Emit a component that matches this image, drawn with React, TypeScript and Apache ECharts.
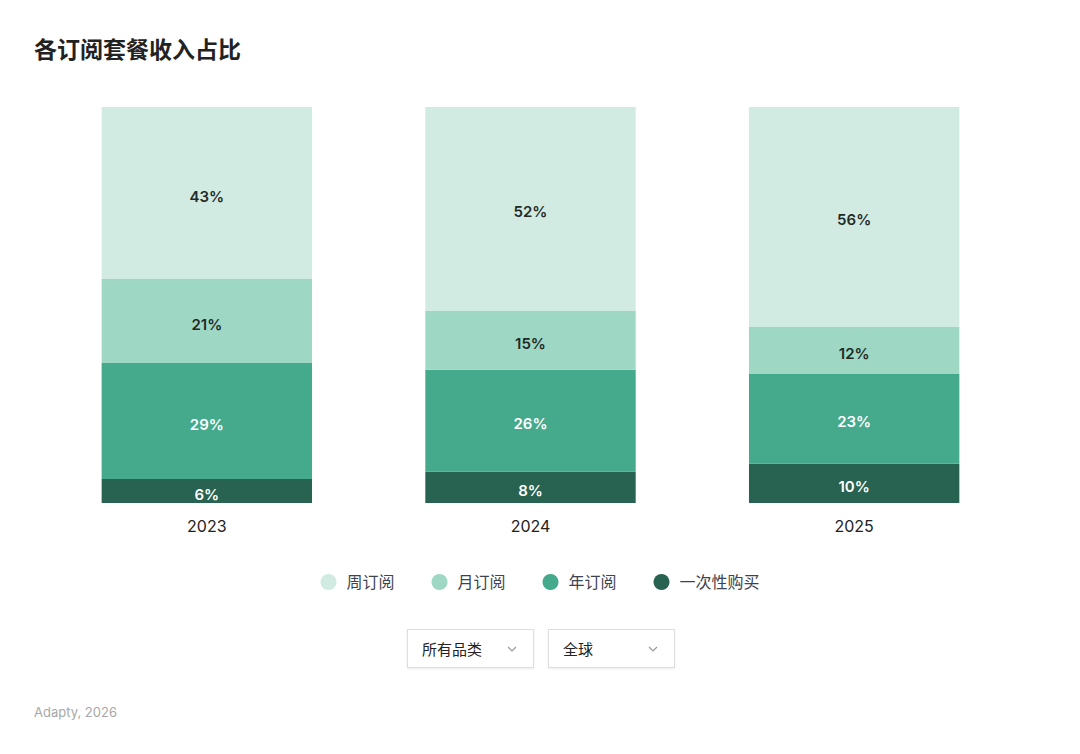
import React, { useEffect, useRef } from "react";
import * as echarts from "echarts";

const years = ["2023", "2024", "2025"];
const seriesNames = ["周订阅", "月订阅", "年订阅", "一次性购买"];
const weekly = [43, 52, 56];
const monthly = [21, 15, 12];
const annual = [29, 26, 23];
const oneTime = [6, 8, 10];
const colors = ["#d1ebe3", "#9ed8c5", "#45a98b", "#276350"];
const labelColors = ["#1f2a27", "#1f2a27", "#ffffff", "#ffffff"];

const FONT = "'Inter', 'Noto Sans CJK SC', sans-serif";

export default function App() {
  const ref = useRef<HTMLDivElement>(null);
  useEffect(() => {
    if (!ref.current) return;
    const chart = echarts.init(ref.current, undefined, { renderer: "svg" });
    const raw = [oneTime, annual, monthly, weekly];
    const names = [seriesNames[3], seriesNames[2], seriesNames[1], seriesNames[0]];
    const cols = [colors[3], colors[2], colors[1], colors[0]];
    const lcols = [labelColors[3], labelColors[2], labelColors[1], labelColors[0]];
    const totals = years.map((_, i) => raw.reduce((s, a) => s + a[i], 0));
    const series = raw.map((arr, si) => ({
      name: names[si],
      type: "bar",
      stack: "total",
      barWidth: "65%",
      data: arr.map((v, i) => (v / totals[i]) * 100),
      itemStyle: { color: cols[si] },
      label: {
        show: true,
        position: "inside",
        offset: [0, 3],
        color: lcols[si],
        fontSize: 15,
        fontWeight: 600,
        fontFamily: FONT,
        formatter: (p: any) => `${arr[p.dataIndex]}%`,
      },
      emphasis: { disabled: true },
    }));
    chart.setOption({
      animation: false,
      title: {
        text: "各订阅套餐收入占比",
        left: 34,
        top: 38,
        padding: 0,
        textStyle: { fontSize: 23, fontWeight: 600, color: "#222", fontFamily: FONT },
      },
      legend: {
        data: seriesNames,
        top: 574,
        left: "center",
        icon: "circle",
        itemWidth: 16,
        itemHeight: 16,
        itemGap: 37,
        padding: 0,
        textStyle: { fontSize: 16, color: "#3d4450", fontFamily: FONT, padding: [0, 0, 0, 5] },
      },
      grid: { left: 45, right: 64, top: 107, bottom: 251, containLabel: false },
      xAxis: {
        type: "category",
        data: years,
        axisLine: { show: false },
        axisTick: { show: false },
        axisLabel: { color: "#222", fontSize: 16, margin: 15, fontFamily: FONT },
      },
      yAxis: { type: "value", min: 0, max: 100, show: false, splitLine: { show: false } },
      graphic: [
        {
          type: "text",
          left: 34,
          top: 705,
          style: { text: "Adapty, 2026", fontSize: 13, fill: "#a8a8a8", fontFamily: FONT },
        },
      ],
      series,
    });
    return () => chart.dispose();
  }, []);

  const boxStyle = (left: number): React.CSSProperties => ({
    position: "absolute",
    left,
    top: 629,
    width: 125,
    height: 37,
    border: "1px solid #dedede",
    boxShadow: "0 1px 2px rgba(0,0,0,0.08)",
    background: "#fff",
    fontFamily: FONT,
    fontSize: 15,
    color: "#222",
    display: "flex",
    alignItems: "center",
    boxSizing: "content-box",
  });
  const chevron = (
    <svg width="10" height="6" viewBox="0 0 10 6" style={{ position: "absolute", right: 16, top: 16 }}>
      <polyline points="1,1 5,5 9,1" fill="none" stroke="#999" strokeWidth="1.2" />
    </svg>
  );

  return (
    <div style={{ position: "absolute", left: 0, top: 0, width: 1080, height: 754, background: "#fff" }}>
      <div ref={ref} style={{ position: "absolute", left: 0, top: 0, width: 1080, height: 754 }} />
      <div style={boxStyle(407)}>
        <span style={{ marginLeft: 14 }}>所有品类</span>
        {chevron}
      </div>
      <div style={boxStyle(548)}>
        <span style={{ marginLeft: 14 }}>全球</span>
        {chevron}
      </div>
    </div>
  );
}
